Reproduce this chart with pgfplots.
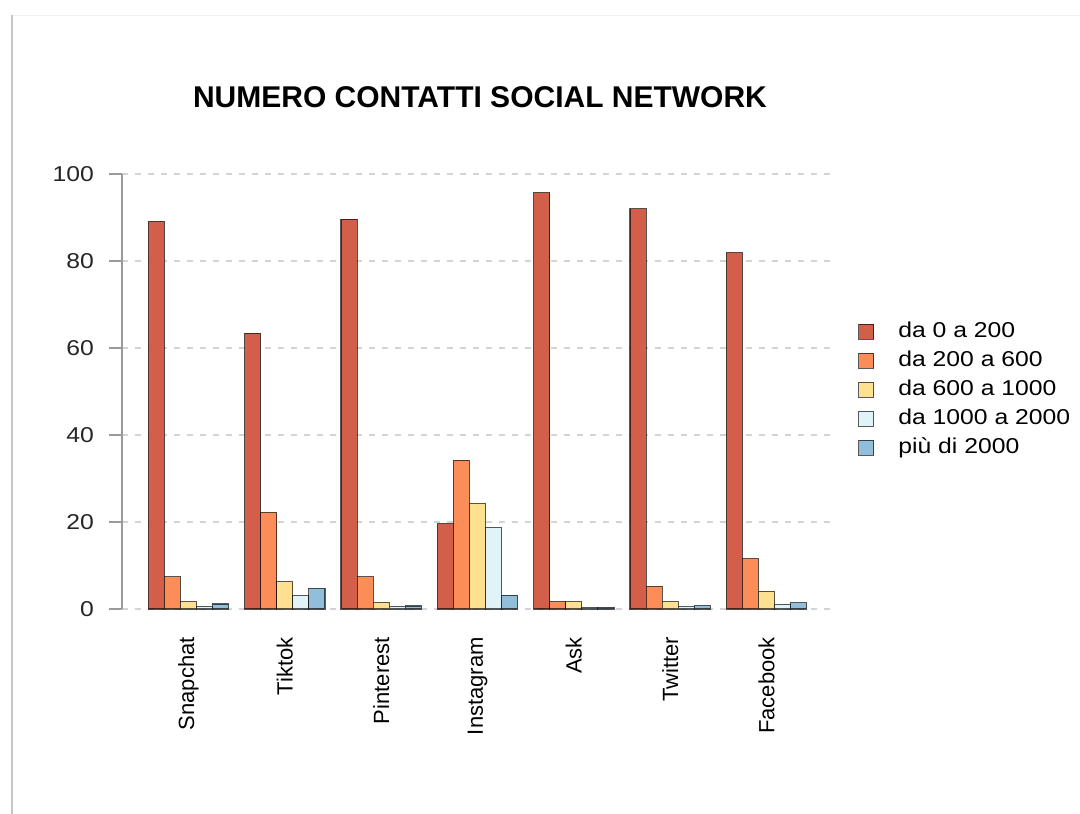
\documentclass[border=0pt]{standalone}
\usepackage{fontspec}
\setmainfont{Liberation Sans}[FakeStretch=1.15]
\newfontfamily\plainsans{Liberation Sans}
\usepackage{pgfplots}
\pgfplotsset{compat=1.18}

\definecolor{cA}{HTML}{D35F4A}
\definecolor{cB}{HTML}{FC8D59}
\definecolor{cC}{HTML}{FEE090}
\definecolor{cD}{HTML}{E0F3F8}
\definecolor{cE}{HTML}{91BFDB}
\definecolor{gridgray}{HTML}{D4D4D4}
\definecolor{axgray}{HTML}{9A9A9A}

\pgfplotsset{
  sq/.style={draw=black, draw opacity=0.65, line width=1.1pt,
    legend image code/.code={\draw[##1] (0pt,-7.5pt) rectangle (15pt,7.5pt);}},
}

% percentages per category (Snapchat, Tiktok, Pinterest, Instagram, Ask, Twitter, Facebook)
\pgfplotstableread{
x  a     b     c     d     e
0  89.1  7.4   1.7   0.6   1.15
1  63.4  22.2  6.3   3.1   4.75
2  89.6  7.4   1.5   0.6   0.7
3  19.6  34.2  24.3  18.7  3.2
4  95.7  1.7   1.7   0.4   0.4
5  92.0  5.2   1.7   0.5   0.8
6  81.9  11.6  4.1   1.1   1.4
}\datatable

\begin{document}
\begin{tikzpicture}
\useasboundingbox (0pt,0pt) rectangle (1080pt,-814pt);
\fill[white] (0pt,0pt) rectangle (1080pt,-814pt);
\draw[gray!12, line width=1pt] (12pt,-15pt) -- (1080pt,-15pt);
\draw[gray!45, line width=2pt] (12pt,-15pt) -- (12pt,-814pt);
\begin{axis}[
  at={(122pt,-609pt)}, anchor=south west,
  scale only axis, width=711pt, height=435pt,
  xmin=-0.69, xmax=6.69, ymin=0, ymax=100,
  ybar, bar width=0.16667,
  axis y line*=left, axis x line*=bottom,
  x axis line style={draw=none},
  y axis line style={axgray, line width=1.5pt},
  ytick={0,20,...,100},
  major y tick style={axgray, line width=1.5pt},
  tick align=outside, major tick length=13pt,
  major x tick style={draw=none},
  xtick={0,...,6},
  xticklabels={Snapchat,Tiktok,Pinterest,Instagram,Ask,Twitter,Facebook},
  xticklabel style={rotate=90, anchor=east, inner sep=0pt,
    font=\plainsans\fontsize{22}{26}\selectfont},
  xticklabel shift=15pt,
  yticklabel style={anchor=east, inner sep=0pt, text=black!85,
    font=\fontsize{21.5}{25}\selectfont},
  yticklabel shift=15pt,
  /pgf/number format/assume math mode=true,
  ymajorgrids,
  grid style={gridgray, line width=1.6pt, dash pattern=on 6pt off 7pt},
  clip=false,
  title={\plainsans\bfseries\fontsize{30}{34}\selectfont NUMERO CONTATTI SOCIAL NETWORK},
  title style={at={(0.5035,1.163)}, anchor=center},
  legend style={draw=none, fill=none, at={(1.031,0.666)}, anchor=north west,
    font=\fontsize{21.5}{25}\selectfont,
    nodes={inner sep=0pt, text height=16pt, text depth=5pt},
    row sep=8pt,
    /tikz/every odd column/.append style={column sep=24pt}},
  legend cell align=left,
]
\addplot[sq, fill=cA, bar shift=-0.33333] table[x=x,y=a] {\datatable};
\addlegendentry{da 0 a 200}
\addplot[sq, fill=cB, bar shift=-0.16667] table[x=x,y=b] {\datatable};
\addlegendentry{da 200 a 600}
\addplot[sq, fill=cC, bar shift=0] table[x=x,y=c] {\datatable};
\addlegendentry{da 600 a 1000}
\addplot[sq, fill=cD, bar shift=0.16667] table[x=x,y=d] {\datatable};
\addlegendentry{da 1000 a 2000}
\addplot[sq, fill=cE, bar shift=0.33333] table[x=x,y=e] {\datatable};
\addlegendentry{più di 2000}
\end{axis}
\end{tikzpicture}
\end{document}
